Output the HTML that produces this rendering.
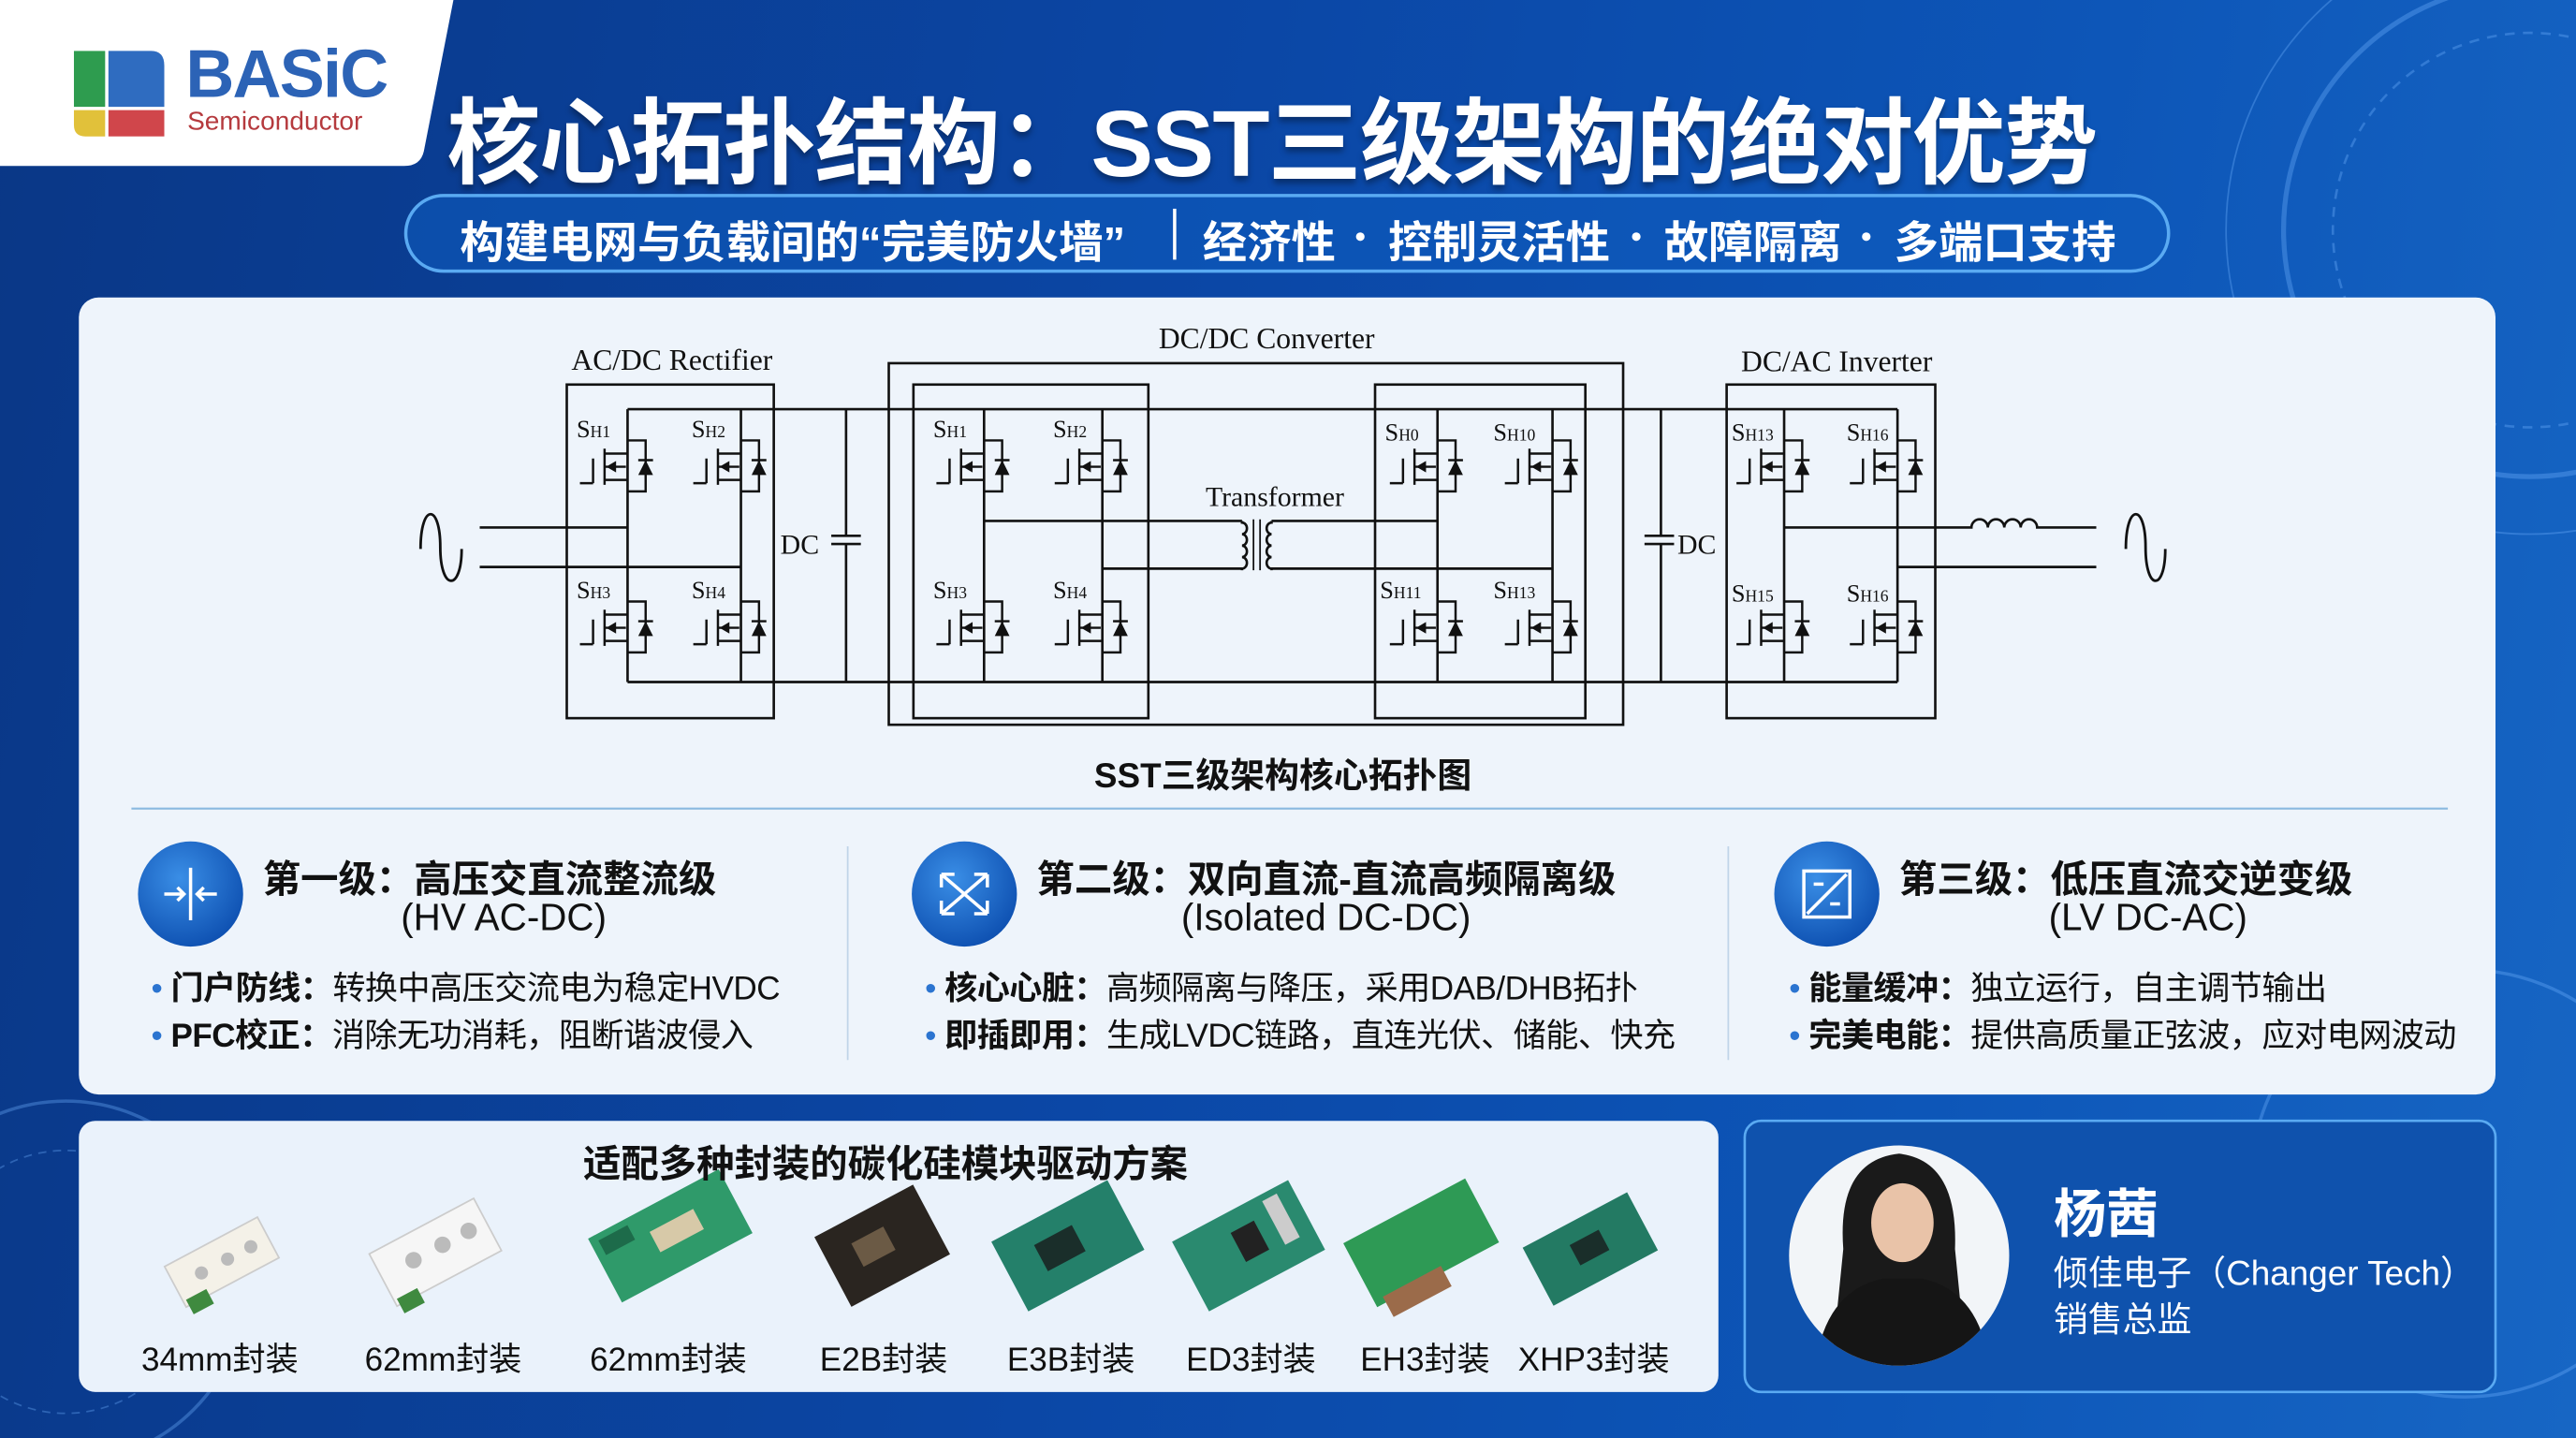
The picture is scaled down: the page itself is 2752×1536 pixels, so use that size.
<!DOCTYPE html>
<html><head><meta charset="utf-8"><style>
html,body{margin:0;padding:0;width:2752px;height:1536px;overflow:hidden;background:#0b3f98;}
#w{position:absolute;left:0;top:0;width:1568px;height:875px;transform:scale(1.75510,1.75543);transform-origin:0 0;
background:linear-gradient(100deg,#0a3786 0%,#0b47a6 45%,#0d56b8 75%,#1766c4 100%);overflow:hidden;
font-family:"Liberation Sans","Noto Sans CJK SC",sans-serif;}
.a{position:absolute;white-space:nowrap;}
.cn{font-family:"Liberation Sans","Noto Sans CJK SC",sans-serif;}
.t{font-weight:bold;color:#111;}
.st{position:absolute;top:126px;font-size:27px;font-weight:bold;color:#fff;white-space:nowrap;}
</style></head><body><div id="w">
<svg class="a" style="left:0;top:0" width="1568" height="875">
<g fill="none" stroke="#6fb3ff" stroke-opacity="0.35">
<circle cx="1540" cy="140" r="150" stroke-width="3"/>
<circle cx="1540" cy="140" r="120" stroke-width="1.5" stroke-dasharray="6 5"/>
<circle cx="1540" cy="140" r="185" stroke-width="1"/>
<circle cx="1500" cy="720" r="130" stroke-width="2"/>
<circle cx="40" cy="780" r="110" stroke-width="2"/>
<circle cx="40" cy="780" r="80" stroke-width="1" stroke-dasharray="5 4"/>
</g>
<path d="M0 0 H276 L258 92 Q256 101 246 101 H0 Z" fill="#ffffff"/>
<rect x="45" y="31" width="19" height="34" fill="#2e9c4f"/>
<path d="M66 31 H92 Q100 31 100 40 V65 H66 Z" fill="#2f6cc0"/>
<path d="M45 67 H64 V83 H52 Q45 83 45 76 Z" fill="#e1c13a"/>
<rect x="66" y="67" width="34" height="16" fill="#d0464b"/>
<rect x="247" y="119" width="1073" height="46" rx="23" fill="#0f5cc0" fill-opacity="0.55" stroke="#5aaaf2" stroke-width="2"/>
<line x1="715" y1="127" x2="715" y2="158" stroke="#fff" stroke-width="2"/>
<circle cx="828" cy="144" r="2.6" fill="#fff"/>
<circle cx="996" cy="144" r="2.6" fill="#fff"/>
<circle cx="1136" cy="144" r="2.6" fill="#fff"/>
<rect x="48" y="181" width="1471" height="485" rx="12" fill="#eef4fb"/>
<rect x="48" y="682" width="998" height="165" rx="10" fill="#eaf2fb"/>
<rect x="1062" y="682" width="457" height="165" rx="10" fill="#0f52ad" stroke="#5aaaf2" stroke-width="1.5"/>
<line x1="80" y1="492" x2="1490" y2="492" stroke="#8ab9e0" stroke-width="1.2"/>
<line x1="516" y1="515" x2="516" y2="645" stroke="#c0d4e8" stroke-width="1"/>
<line x1="1052" y1="515" x2="1052" y2="645" stroke="#c0d4e8" stroke-width="1"/>
<defs>
<g id="sw" stroke="#111" stroke-width="1.4" fill="none">
<path d="M0 0 h11 v31 h-11"/>
<path d="M-14 5 v22"/>
<path d="M-14 8 h14 M-14 24 h14"/>
<path d="M-21 11 v15 M-29 26 h8"/>
<path d="M-14 16 h13"/>
<polygon points="-13,16 -7,12.5 -7,19.5" fill="#111" stroke="none"/>
<polygon points="6.5,21 15.5,21 11,12" fill="#111" stroke="none"/>
<path d="M6.5 12 h9"/>
</g>
</defs>
<g stroke="#111" stroke-width="1.5" fill="none">
<rect x="345" y="234" width="126" height="203"/>
<rect x="541" y="221" width="447" height="220"/>
<rect x="556" y="234" width="143" height="203"/>
<rect x="837" y="234" width="128" height="203"/>
<rect x="1051" y="234" width="127" height="203"/>
<path d="M382 249 H1155 M382 415 H1155"/>
<path d="M382 249 V415 M451 249 V415 M599 249 V415 M671 249 V415 M875 249 V415 M945 249 V415 M1086 249 V415 M1155 249 V415"/>
<path d="M292 321 H382 M292 345 H451"/>
<path d="M515 249 V326 M515 331 V415 M506 326 H524 M506 331 H524"/>
<path d="M1011 249 V326 M1011 331 V415 M1001 326 H1019 M1001 331 H1019"/>
<path d="M599 317 H756 M671 346 H756 M774 317 H875 M774 346 H945"/>
<path d="M756 317 v1 a3 3.5 0 0 1 0 7 a3 3.5 0 0 1 0 7 a3 3.5 0 0 1 0 7 a3 3.5 0 0 1 0 7 v1"/>
<path d="M774 317 v1 a3 3.5 0 0 0 0 7 a3 3.5 0 0 0 0 7 a3 3.5 0 0 0 0 7 a3 3.5 0 0 0 0 7 v1"/>
<path d="M763 316 V347 M767 316 V347" stroke-width="1"/>
<path d="M1086 321 H1200 a5 5 0 0 1 10 0 a5 5 0 0 1 10 0 a5 5 0 0 1 10 0 a5 5 0 0 1 10 0 H1276 M1155 345 H1276"/>
<path d="M256 334 C256 306 268 306 268 333 C268 360 281 360 281 334" stroke-width="1.6"/>
<path d="M1294 334 C1294 306 1306 306 1306 333 C1306 360 1318 360 1318 334" stroke-width="1.6"/>
</g>
<g>
<use href="#sw" x="382" y="268"/><use href="#sw" x="451" y="268"/><use href="#sw" x="382" y="366"/><use href="#sw" x="451" y="366"/>
<use href="#sw" x="599" y="268"/><use href="#sw" x="671" y="268"/><use href="#sw" x="599" y="366"/><use href="#sw" x="671" y="366"/>
<use href="#sw" x="875" y="268"/><use href="#sw" x="945" y="268"/><use href="#sw" x="875" y="366"/><use href="#sw" x="945" y="366"/>
<use href="#sw" x="1086" y="268"/><use href="#sw" x="1155" y="268"/><use href="#sw" x="1086" y="366"/><use href="#sw" x="1155" y="366"/>
</g>
<g font-family="Liberation Serif,serif" fill="#111" font-size="15">
<text x="351" y="266">S<tspan font-size="10">H1</tspan></text><text x="421" y="266">S<tspan font-size="10">H2</tspan></text>
<text x="351" y="364">S<tspan font-size="10">H3</tspan></text><text x="421" y="364">S<tspan font-size="10">H4</tspan></text>
<text x="568" y="266">S<tspan font-size="10">H1</tspan></text><text x="641" y="266">S<tspan font-size="10">H2</tspan></text>
<text x="568" y="364">S<tspan font-size="10">H3</tspan></text><text x="641" y="364">S<tspan font-size="10">H4</tspan></text>
<text x="843" y="268">S<tspan font-size="10">H0</tspan></text><text x="909" y="268">S<tspan font-size="10">H10</tspan></text>
<text x="840" y="364">S<tspan font-size="10">H11</tspan></text><text x="909" y="364">S<tspan font-size="10">H13</tspan></text>
<text x="1054" y="268">S<tspan font-size="10">H13</tspan></text><text x="1124" y="268">S<tspan font-size="10">H16</tspan></text>
<text x="1054" y="366">S<tspan font-size="10">H15</tspan></text><text x="1124" y="366">S<tspan font-size="10">H16</tspan></text>
<g font-size="18" text-anchor="middle">
<text x="409" y="225">AC/DC Rectifier</text>
<text x="771" y="212">DC/DC Converter</text>
<text x="1118" y="226">DC/AC Inverter</text>
<text x="776" y="308" font-size="17">Transformer</text>
</g>
<text x="475" y="337" font-size="17">DC</text>
<text x="1021" y="337" font-size="17">DC</text>
</g>
<defs><radialGradient id="ig" cx="0.4" cy="0.35" r="0.7"><stop offset="0" stop-color="#3a8ee6"/><stop offset="1" stop-color="#0d4fb0"/></radialGradient></defs>
<circle cx="116" cy="544" r="32" fill="url(#ig)"/>
<circle cx="587" cy="544" r="32" fill="url(#ig)"/>
<circle cx="1112" cy="544" r="32" fill="url(#ig)"/>
<g stroke="#fff" stroke-width="2" fill="none">
<path d="M116 528 V560 M100 544 H111 M108 540 L112 544 L108 548 M132 544 H121 M124 540 L120 544 L124 548"/>
<path d="M573 532 L601 556 M573 556 L601 532 M573 532 h8 M573 532 v8 M601 556 h-8 M601 556 v-8 M573 556 h8 M573 556 v-8 M601 532 h-8 M601 532 v8"/>
<rect x="1098" y="530" width="28" height="28"/><path d="M1100 556 L1124 532 M1104 538 h6 M1114 550 h6"/>
</g>
<g>
<g transform="translate(135,768) rotate(-28)"><rect x="-32" y="-14" width="64" height="28" fill="#f4f1e8" stroke="#ccc"/><circle cx="-14" cy="0" r="4" fill="#bbb"/><circle cx="4" cy="0" r="4" fill="#bbb"/><circle cx="20" cy="0" r="4" fill="#bbb"/><rect x="-30" y="10" width="14" height="10" fill="#3f8a3f"/></g>
<g transform="translate(265,762) rotate(-28)"><rect x="-36" y="-18" width="72" height="36" fill="#f6f6f6" stroke="#ccc"/><circle cx="-14" cy="-2" r="5" fill="#bbb"/><circle cx="6" cy="-2" r="5" fill="#bbb"/><circle cx="24" cy="-2" r="5" fill="#bbb"/><rect x="-34" y="14" width="14" height="10" fill="#3f8a3f"/></g>
<g transform="translate(408,752) rotate(-28)"><rect x="-45" y="-22" width="90" height="44" fill="#2f9a6a"/><rect x="-10" y="-8" width="30" height="14" fill="#d7c9a8"/><rect x="-40" y="-18" width="20" height="10" fill="#1d6b4a"/></g>
<g transform="translate(537,758) rotate(-28)"><rect x="-34" y="-24" width="68" height="48" fill="#2a2520"/><rect x="-16" y="-10" width="22" height="16" fill="#6b5a45"/></g>
<g transform="translate(650,758) rotate(-28)"><rect x="-40" y="-24" width="80" height="48" fill="#24806a"/><rect x="-18" y="-10" width="26" height="18" fill="#1a2e2a"/></g>
<g transform="translate(760,758) rotate(-28)"><rect x="-40" y="-24" width="80" height="48" fill="#2a8a6f"/><rect x="-6" y="-12" width="16" height="20" fill="#222"/><rect x="20" y="-20" width="10" height="30" fill="#ccc"/></g>
<g transform="translate(866,758) rotate(-28)"><rect x="-42" y="-24" width="84" height="44" fill="#2e9a55"/><rect x="-36" y="16" width="40" height="14" fill="#9b6b4a"/></g>
<g transform="translate(968,760) rotate(-28)"><rect x="-36" y="-20" width="72" height="40" fill="#237a63"/><rect x="-10" y="-8" width="20" height="14" fill="#1a2e2a"/></g>
</g>
<circle cx="1156" cy="764" r="67" fill="#f2f5f8"/>
<clipPath id="pc"><circle cx="1156" cy="764" r="67"/></clipPath>
<g clip-path="url(#pc)">
<path d="M1122 760 Q1118 706 1156 702 Q1192 706 1190 760 L1196 820 L1116 820 Z" fill="#1a1a1a"/>
<ellipse cx="1158" cy="744" rx="19" ry="24" fill="#e9c3a8"/>
<path d="M1104 840 Q1108 786 1146 778 L1170 778 Q1208 786 1212 840 Z" fill="#151515"/>
</g>
</svg>
<div class="a cn" style="left:113px;top:22px;font-size:41px;font-weight:bold;color:#2c63b6;letter-spacing:-1px">BASiC</div>
<div class="a" style="left:114px;top:66px;font-size:16px;color:#b53a3e">Semiconductor</div>
<div class="a cn" style="left:272px;top:42px;font-size:57px;font-weight:bold;color:#fff;letter-spacing:-1px;text-shadow:0 3px 4px rgba(0,0,0,.35)">核心拓扑结构：SST三级架构的绝对优势</div>
<div class="st" style="left:280px">构建电网与负载间的“完美防火墙”</div>
<div class="st" style="left:732px">经济性</div>
<div class="st" style="left:845px">控制灵活性</div>
<div class="st" style="left:1013px">故障隔离</div>
<div class="st" style="left:1153px">多端口支持</div>
<div class="a cn t" style="left:666px;top:456px;font-size:21px">SST三级架构核心拓扑图</div>

<div class="a cn t" style="left:160px;top:516px;font-size:23px">第一级：高压交直流整流级</div>
<div class="a cn" style="left:244px;top:545px;font-size:23px;color:#111">(HV AC-DC)</div>
<div class="a cn t" style="left:631px;top:516px;font-size:23px">第二级：双向直流-直流高频隔离级</div>
<div class="a cn" style="left:719px;top:545px;font-size:23px;color:#111">(Isolated DC-DC)</div>
<div class="a cn t" style="left:1156px;top:516px;font-size:23px">第三级：低压直流交逆变级</div>
<div class="a cn" style="left:1247px;top:545px;font-size:23px;color:#111">(LV DC-AC)</div>

<div class="a cn" style="left:92px;top:588px;font-size:20px;color:#111;line-height:29px;letter-spacing:-0.3px"><span style="color:#2b74d0">•</span> <b>门户防线：</b>转换中高压交流电为稳定HVDC<br><span style="color:#2b74d0">•</span> <b>PFC校正：</b>消除无功消耗，阻断谐波侵入</div>
<div class="a cn" style="left:563px;top:588px;font-size:20px;color:#111;line-height:29px;letter-spacing:-0.3px"><span style="color:#2b74d0">•</span> <b>核心心脏：</b>高频隔离与降压，采用DAB/DHB拓扑<br><span style="color:#2b74d0">•</span> <b>即插即用：</b>生成LVDC链路，直连光伏、储能、快充</div>
<div class="a cn" style="left:1089px;top:588px;font-size:20px;color:#111;line-height:29px;letter-spacing:-0.3px"><span style="color:#2b74d0">•</span> <b>能量缓冲：</b>独立运行，自主调节输出<br><span style="color:#2b74d0">•</span> <b>完美电能：</b>提供高质量正弦波，应对电网波动</div>

<div class="a cn t" style="left:355px;top:689px;font-size:23px">适配多种封装的碳化硅模块驱动方案</div>
<div class="a cn" style="left:86px;top:811px;font-size:20px;color:#111">34mm封装</div>
<div class="a cn" style="left:222px;top:811px;font-size:20px;color:#111">62mm封装</div>
<div class="a cn" style="left:359px;top:811px;font-size:20px;color:#111">62mm封装</div>
<div class="a cn" style="left:499px;top:811px;font-size:20px;color:#111">E2B封装</div>
<div class="a cn" style="left:613px;top:811px;font-size:20px;color:#111">E3B封装</div>
<div class="a cn" style="left:722px;top:811px;font-size:20px;color:#111">ED3封装</div>
<div class="a cn" style="left:828px;top:811px;font-size:20px;color:#111">EH3封装</div>
<div class="a cn" style="left:924px;top:811px;font-size:20px;color:#111">XHP3封装</div>

<div class="a cn" style="left:1250px;top:714px;font-size:32px;font-weight:bold;color:#fff">杨茜</div>
<div class="a cn" style="left:1250px;top:759px;font-size:21px;color:#fff">倾佳电子（Changer Tech）</div>
<div class="a cn" style="left:1250px;top:787px;font-size:21px;color:#fff">销售总监</div>
</div></body></html>
